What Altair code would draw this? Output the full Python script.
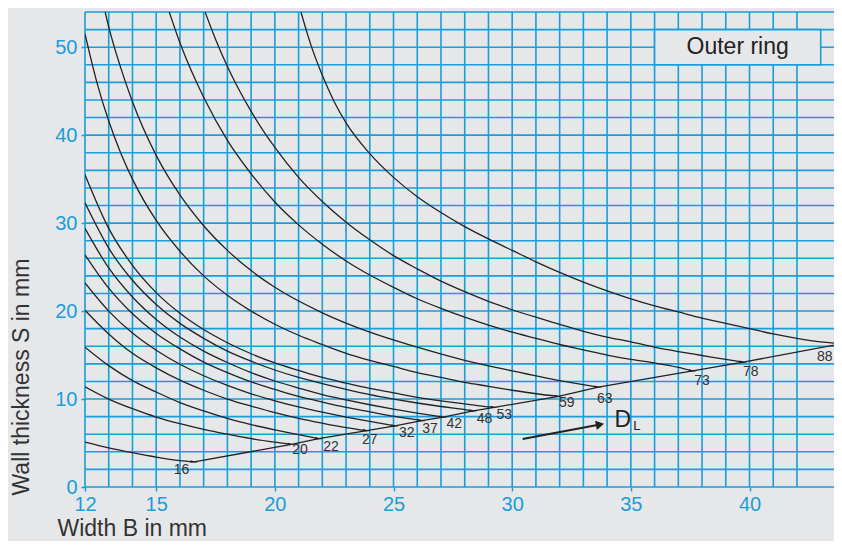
import altair as alt
import pandas as pd

BG = "#e6e7e9"
BLUE = "#1a9ddb"
INK = "#222222"
FONT = "Liberation Sans"

# grid and tick positions
x_grid = list(range(12, 44))
y_grid = list(range(0, 55, 2))
x_ticks = [12, 15, 20, 25, 30, 35, 40]
y_ticks = [0, 10, 20, 30, 40, 50]

# curves: width B (x) and wall thickness S (y) for each D_L
B16 = [12, 13, 14, 15, 16, 16.6]
S16 = [5.1, 4.45, 3.9, 3.4, 3.0, 2.85]
B20 = [12, 13, 14, 15, 16, 17, 18, 19, 20, 20.7]
S20 = [11.4, 10.0, 8.9, 7.95, 7.2, 6.55, 6.0, 5.5, 5.1, 4.85]
B22 = [12, 13, 14, 15, 16, 17, 18, 19, 20, 21, 21.85]
S22 = [15.9, 13.8, 12.1, 10.8, 9.6, 8.65, 7.8, 7.1, 6.5, 5.95, 5.5]
B27 = [12, 13, 14, 15, 16, 17, 18, 19, 20, 21, 22, 23, 23.87]
S27 = [20.1, 17.4, 15.2, 13.55, 12.15, 11.0, 10.0, 9.2, 8.45, 7.8, 7.25, 6.75, 6.4]
B32 = [12, 13, 14, 15, 16, 17, 18, 19, 20, 21, 22, 23, 24, 25.06]
S32 = [23.2, 20.0, 17.5, 15.55, 13.95, 12.65, 11.55, 10.6, 9.8, 9.1, 8.5, 7.95, 7.45, 6.95]
B37 = [12, 13, 14, 15, 16, 17, 18, 19, 20, 21, 22, 23, 24, 25, 26.19]
S37 = [26.4, 22.6, 19.7, 17.45, 15.7, 14.2, 13.0, 11.95, 11.1, 10.3, 9.65, 9.05, 8.55, 8.05, 7.55]
B42 = [12, 13, 14, 15, 16, 17, 18, 19, 20, 21, 22, 23, 24, 25, 26, 27.1]
S42 = [29.4, 24.9, 21.6, 19.05, 17.05, 15.45, 14.15, 13.0, 12.05, 11.25, 10.5, 9.9, 9.35, 8.85, 8.4, 7.95]
B48 = [12, 13, 14, 15, 16, 17, 18, 19, 20, 21, 22, 23, 24, 25, 26, 27, 28, 28.36]
S48 = [32.3, 27.15, 23.5, 20.75, 18.6, 16.9, 15.45, 14.3, 13.3, 12.45, 11.75, 11.1, 10.5, 10.0, 9.55, 9.15, 8.8, 8.65]
B53 = [12, 13, 14, 15, 16, 17, 18, 19, 20, 21, 22, 23, 24, 25, 26, 27, 28, 29, 29.25]
S53 = [35.5, 29.4, 25.2, 22.1, 19.75, 17.9, 16.4, 15.15, 14.1, 13.25, 12.45, 11.8, 11.2, 10.7, 10.2, 9.8, 9.45, 9.1, 9.05]
B59 = [12, 12.5, 13, 13.5, 14, 15, 16, 17, 18, 19, 20, 21, 22, 23, 24, 25, 26, 27, 28, 29, 30, 31, 31.95]
S59 = [51.5, 46.0, 41.6, 38.0, 35.0, 30.3, 26.8, 24.0, 21.8, 20.0, 18.5, 17.25, 16.2, 15.2, 14.4, 13.7, 13.0, 12.45, 11.9, 11.45, 11.0, 10.6, 10.3]
B63 = [12.85, 13, 13.5, 14, 15, 16, 17, 18, 19, 20, 22, 24, 26, 28, 30, 32, 33.63]
S63 = [54.0, 52.3, 47.7, 43.8, 37.7, 33.2, 29.7, 26.9, 24.6, 22.7, 19.8, 17.6, 15.9, 14.4, 13.2, 12.1, 11.35]
B73 = [15.55, 16, 16.5, 17, 18, 19, 20, 21, 22, 23, 24, 25, 26, 27, 28, 29, 30, 31, 32, 33, 34, 35, 36, 37, 37.6]
S73 = [54.0, 50.5, 47.2, 44.3, 39.4, 35.6, 32.4, 29.8, 27.6, 25.7, 24.1, 22.7, 21.4, 20.3, 19.3, 18.4, 17.6, 16.9, 16.2, 15.6, 15.0, 14.5, 14.1, 13.6, 13.2]
B78 = [17.06, 17.5, 18, 19, 20, 21, 22, 23, 24, 25, 26, 27, 28, 29, 30, 31, 32, 33, 34, 35, 36, 37, 38, 39, 39.74]
S78 = [54.0, 50.9, 47.8, 42.7, 38.6, 35.2, 32.45, 30.1, 28.1, 26.3, 24.8, 23.4, 22.2, 21.1, 20.15, 19.3, 18.5, 17.7, 17.05, 16.5, 15.9, 15.4, 14.95, 14.5, 14.2]
B88 = [21.1, 21.5, 22, 22.5, 23, 24, 25, 26, 27, 28, 29, 30, 31, 32, 33, 34, 35, 36, 37, 38, 39, 40, 41, 42, 43, 43.9]
S88 = [54.0, 50.4, 46.8, 43.8, 41.4, 37.9, 35.2, 33.0, 31.2, 29.6, 28.2, 26.9, 25.6, 24.4, 23.3, 22.3, 21.4, 20.6, 19.9, 19.2, 18.6, 18.0, 17.4, 16.9, 16.5, 16.3]

# D_L line through the curve ends, and labels
DL_names = ["16", "20", "22", "27", "32", "37", "42", "48", "53", "59", "63", "73", "78", "88"]
DL_B = [16.6, 20.7, 21.85, 23.87, 25.06, 26.19, 27.1, 28.36, 29.25, 31.95, 33.63, 37.6, 39.74, 43.9]
DL_S = [2.85, 4.85, 5.5, 6.4, 6.95, 7.55, 7.95, 8.65, 9.05, 10.3, 11.35, 13.2, 14.2, 16.3]
lab_B = [16.07, 21.06, 22.37, 24.0, 25.56, 26.54, 27.56, 28.83, 29.67, 32.3, 33.9, 38.0, 40.05, 43.17]
lab_S = [1.96, 4.2, 4.6, 5.35, 6.1, 6.6, 7.15, 7.7, 8.2, 9.6, 10.0, 12.06, 13.1, 14.8]

arrow_B = [30.44, 33.7]
arrow_S = [5.45, 7.1]

box_B = [36, 43]
box_S = [48, 52]

curves = [(B16, S16, "16"), (B20, S20, "20"), (B22, S22, "22"), (B27, S27, "27"),
          (B32, S32, "32"), (B37, S37, "37"), (B42, S42, "42"), (B48, S48, "48"),
          (B53, S53, "53"), (B59, S59, "59"), (B63, S63, "63"), (B73, S73, "73"),
          (B78, S78, "78"), (B88, S88, "88")]
rows = []
for bs, ss, name in curves:
    for b, s in zip(bs, ss):
        rows.append({"B": b, "S": s, "DL": name})
curve_df = pd.DataFrame(rows)

# plot area 749 px wide at 23.73 px per mm, so the right edge is B = 43.56
xs = alt.Scale(domain=[12, 43.56], nice=False, zero=False)
ys = alt.Scale(domain=[0, 54], nice=False, zero=True)

x_axis = alt.Axis(
    values=x_ticks, grid=False, domain=False, tickColor=BLUE, tickSize=4, tickWidth=1.5,
    labelColor=BLUE, labelFontSize=20, labelFont=FONT, labelPadding=3, labelFlush=False,
    title="Width B in mm", titleFont=FONT, titleFontSize=23, titleColor="#333333",
    titleFontWeight="normal", titleAnchor="start", titleAlign="left", titleBaseline="alphabetic",
    titleX=-28, titleY=48)
y_axis = alt.Axis(
    values=y_ticks, grid=False, domain=False, tickColor=BLUE, tickSize=4, tickWidth=1.5,
    labelColor=BLUE, labelFontSize=20, labelFont=FONT, labelPadding=4,
    title="Wall thickness S in mm", titleFont=FONT, titleFontSize=23, titleColor="#333333",
    titleFontWeight="normal", titleAngle=270, titleAlign="left", titleBaseline="middle",
    titleX=-64, titleY=483)


def X(field="B"):
    return alt.X(f"{field}:Q", scale=xs, axis=x_axis)


def Y(field="S"):
    return alt.Y(f"{field}:Q", scale=ys, axis=y_axis)


vgrid = alt.Chart(pd.DataFrame({"B": x_grid[:-1]})).mark_rule(color=BLUE, strokeWidth=1.6).encode(x=X())
hgrid = alt.Chart(pd.DataFrame({"S": y_grid})).mark_rule(color=BLUE, strokeWidth=1.6).encode(y=Y())

box = alt.Chart(pd.DataFrame({"B": [box_B[0]], "B2": [box_B[1]], "S": [box_S[0]], "S2": [box_S[1]]})).mark_rect(
    fill=BG, stroke=BLUE, strokeWidth=1.6).encode(x=X(), x2="B2:Q", y=Y(), y2="S2:Q")

box_text = alt.Chart(pd.DataFrame({"B": [(box_B[0] + box_B[1]) / 2], "S": [(box_S[0] + box_S[1]) / 2],
                                   "t": ["Outer ring"]})).mark_text(
    font=FONT, fontSize=23, color=INK).encode(x=X(), y=Y(), text="t:N")

lines = alt.Chart(curve_df).mark_line(color=INK, strokeWidth=1.3, interpolate="monotone", clip=True).encode(
    x=X(), y=Y(), detail="DL:N")

dl_df = pd.DataFrame({"B": DL_B, "S": DL_S, "DL": DL_names})
dl_line = alt.Chart(dl_df).mark_line(color=INK, strokeWidth=1.3, clip=True).encode(x=X(), y=Y())

ends = alt.Chart(dl_df.iloc[:-1]).mark_point(shape="M -1 -0.3 L 1 0 L -1 0.3 Z", filled=True, size=60,
                                             color=INK, opacity=1, angle=8).encode(x=X(), y=Y())

lab_df = pd.DataFrame({"B": lab_B, "S": lab_S, "t": DL_names})
labels = alt.Chart(lab_df).mark_text(font=FONT, fontSize=14, color="#333333").encode(
    x=X(), y=Y(), text="t:N")

arrow_df = pd.DataFrame({"B": arrow_B, "S": arrow_S})
arrow = alt.Chart(arrow_df).mark_line(color=INK, strokeWidth=2).encode(x=X(), y=Y())
arrow_head = alt.Chart(pd.DataFrame({"B": [arrow_B[1]], "S": [arrow_S[1]]})).mark_point(
    shape="triangle-right", filled=True, size=90, color=INK, opacity=1, angle=349).encode(x=X(), y=Y())

dl_text = alt.Chart(pd.DataFrame({"B": [34.66, 35.25], "S": [7.6, 6.95], "t": ["D", "L"], "fs": [23, 13]})).mark_text(
    font=FONT, color=INK).encode(x=X(), y=Y(), text="t:N",
                                 size=alt.Size("fs:Q", scale=None, legend=None))

chart = alt.layer(vgrid, hgrid, box, box_text, lines, dl_line, ends, labels, arrow, arrow_head, dl_text).properties(
    width=749, height=475,
    autosize=alt.AutoSizeParams(type="none"),
    padding={"left": 77, "top": 4, "right": 0, "bottom": 54},
    background=BG,
).configure_view(fill=BG, stroke=None)

chart.save("out.html", embed_options={"renderer": "svg", "actions": False})
